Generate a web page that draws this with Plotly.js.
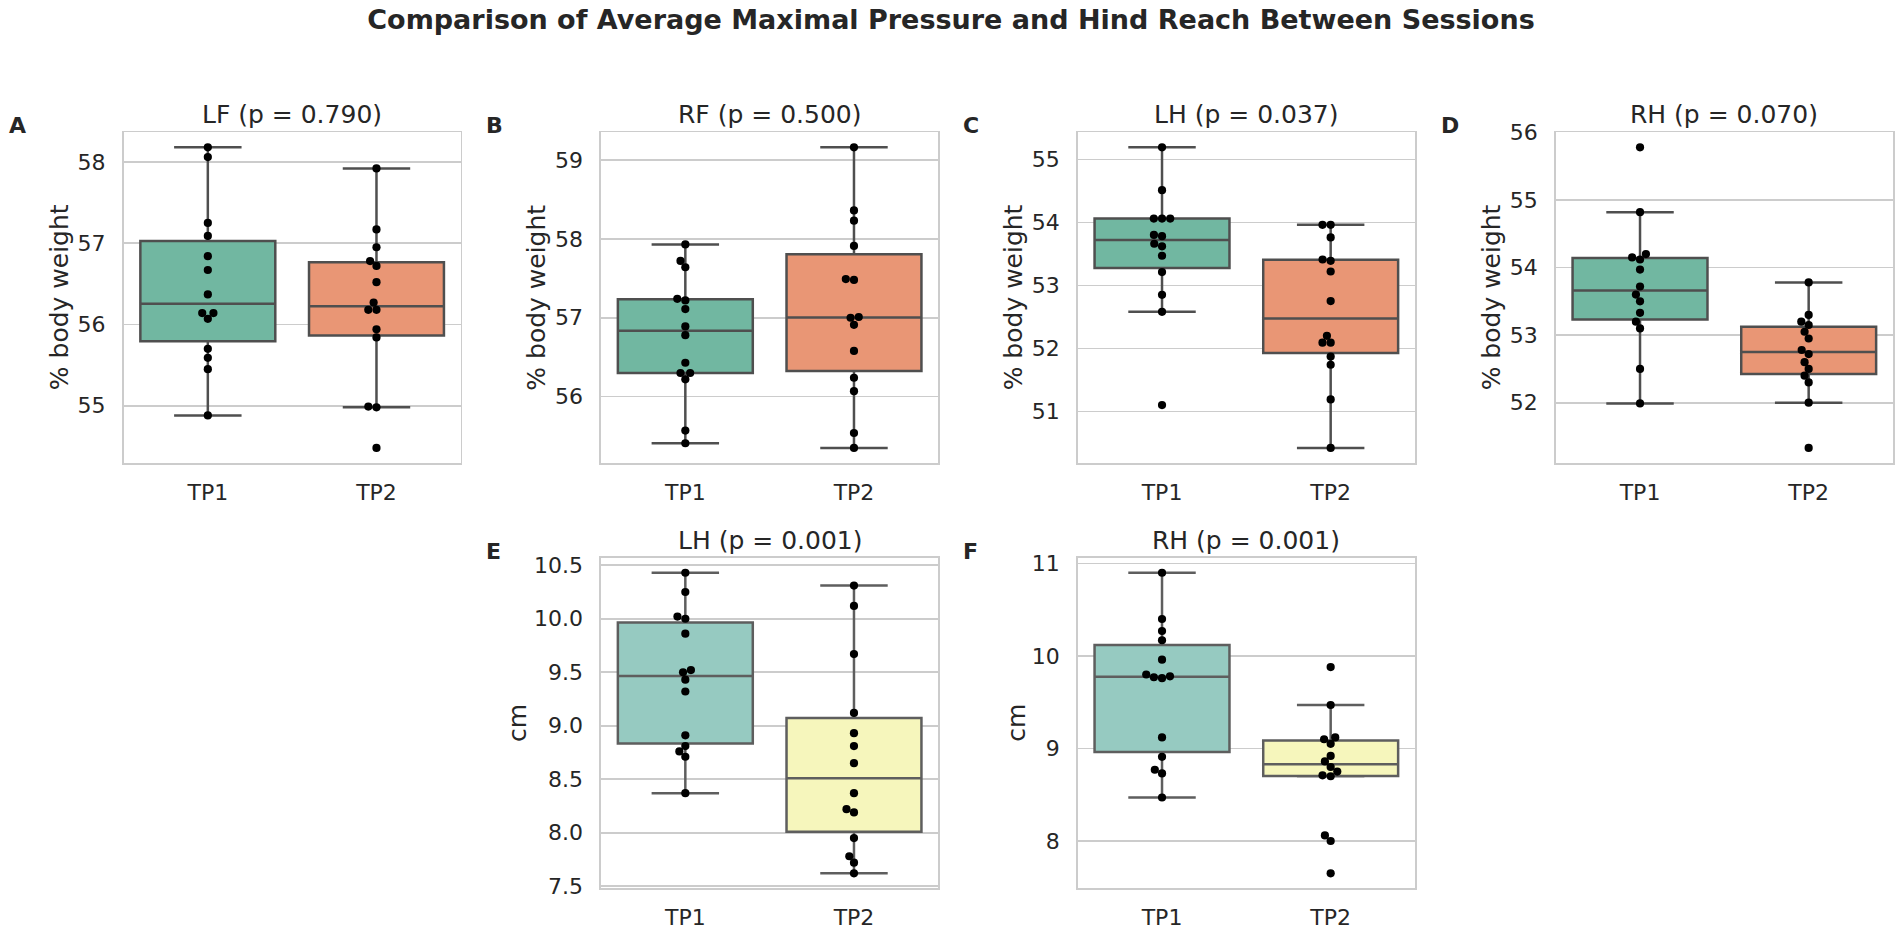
<!DOCTYPE html>
<html><head><meta charset="utf-8">
<script src="https://cdn.plot.ly/plotly-3.0.1.min.js"></script>
<style>html,body{margin:0;padding:0;background:#fff;} #chart{width:1902px;height:931px;}</style>
</head><body><div id="chart"></div>
<script>
// ---------------- data ----------------
const groups = ['TP1', 'TP2'];
const panelLetters = ['A', 'B', 'C', 'D', 'E', 'F'];
const panelTitles = ['LF (p = 0.790)', 'RF (p = 0.500)', 'LH (p = 0.037)', 'RH (p = 0.070)', 'LH (p = 0.001)', 'RH (p = 0.001)'];
const yLabels = ['% body weight', '% body weight', '% body weight', '% body weight', 'cm', 'cm'];
const mainTitle = 'Comparison of Average Maximal Pressure and Hind Reach Between Sessions';

const lfTP1 = [58.18, 58.06, 57.25, 57.09, 56.84, 56.67, 56.37, 56.14, 56.14, 56.07, 55.70, 55.59, 55.45, 54.88];
const lfTP2 = [57.92, 57.17, 56.95, 56.78, 56.72, 56.52, 56.27, 56.18, 56.18, 55.94, 55.84, 54.99, 54.98, 54.48];
const rfTP1 = [57.93, 57.72, 57.64, 57.24, 57.22, 57.11, 56.89, 56.78, 56.43, 56.30, 56.30, 56.22, 55.57, 55.41];
const rfTP2 = [59.16, 58.36, 58.23, 57.91, 57.49, 57.48, 57.01, 57.00, 56.91, 56.58, 56.24, 56.07, 55.54, 55.35];
const lhTP1 = [55.19, 54.51, 54.06, 54.06, 54.06, 53.80, 53.78, 53.66, 53.62, 53.47, 53.21, 52.85, 52.58, 51.10];
const lhTP2 = [53.96, 53.96, 53.76, 53.41, 53.39, 53.22, 52.75, 52.20, 52.09, 52.09, 51.87, 51.74, 51.19, 50.42];
const rhTP1 = [55.78, 54.82, 54.20, 54.15, 54.12, 53.97, 53.72, 53.60, 53.50, 53.33, 53.20, 53.10, 52.50, 51.99];
const rhTP2 = [53.78, 53.30, 53.20, 53.15, 53.05, 52.95, 52.78, 52.72, 52.60, 52.50, 52.40, 52.30, 52.00, 51.33];
const lhReachTP1 = [10.43, 10.25, 10.02, 10.00, 9.86, 9.52, 9.50, 9.43, 9.32, 8.91, 8.81, 8.76, 8.71, 8.37];
const lhReachTP2 = [10.31, 10.12, 9.67, 9.12, 8.93, 8.81, 8.65, 8.37, 8.22, 8.19, 7.95, 7.78, 7.72, 7.62];
const rhReachTP1 = [10.90, 10.40, 10.27, 10.17, 9.96, 9.80, 9.78, 9.77, 9.76, 9.12, 8.91, 8.77, 8.73, 8.47];
const rhReachTP2 = [9.88, 9.47, 9.12, 9.10, 9.05, 8.92, 8.86, 8.80, 8.75, 8.71, 8.70, 8.06, 8.00, 7.65];

const panelData = [
  [lfTP1, lfTP2], [rfTP1, rfTP2], [lhTP1, lhTP2], [rhTP1, rhTP2],
  [lhReachTP1, lhReachTP2], [rhReachTP1, rhReachTP2]
];

// ---------------- styling / layout constants ----------------
const W = 1902, H = 931;
const FONT = 'DejaVu Sans';
const TXT = '#262626';
const colLeft = [123.5, 601, 1077.7, 1555.7];
const panelW = 337.3;
const rowTop = [132.3, 557.7];
const panelH = 330.7;
const panelPos = [[0, 0], [0, 1], [0, 2], [0, 3], [1, 1], [1, 2]];
const fillPressure = ['#71b7a1', '#e99675'];
const fillReach = ['#96cac1', '#f6f6bc'];
const lineCols = ['#4f4f4f', '#4f4f4f', '#4f4f4f', '#4f4f4f', '#5e5e5e', '#5e5e5e'];
const yDtick = [1, 1, 1, 1, 0.5, 1];
const yFormat = ['', '', '', '', '.1f', ''];
const yLabelOffset = [64, 64, 64, 64, 84, 62];
const dotDiam = 7.8;

function pct(s, p) {
  const idx = (s.length - 1) * p, lo = Math.floor(idx), hi = Math.ceil(idx);
  return s[lo] + (s[hi] - s[lo]) * (idx - lo);
}
function boxStats(vals) {
  const s = vals.slice().sort((a, b) => a - b);
  const q1 = pct(s, 0.25), med = pct(s, 0.5), q3 = pct(s, 0.75);
  const iqr = q3 - q1;
  const lo = Math.min(...s.filter(v => v >= q1 - 1.5 * iqr));
  const hi = Math.max(...s.filter(v => v <= q3 + 1.5 * iqr));
  return {q1, med, q3, lo, hi};
}
// beeswarm (seaborn-like) in pixel space
function swarmOffsets(vals, pxPerY, d) {
  const order = vals.map((v, i) => i).sort((a, b) => vals[a] - vals[b]);
  const placed = [];
  const off = new Array(vals.length).fill(0);
  order.forEach(i => {
    const y = vals[i] * pxPerY;
    const nb = placed.filter(p => Math.abs(p.y - y) < d);
    const cands = [0];
    let leftFirst = true;
    nb.forEach(n => {
      const dy = y - n.y;
      const dx = Math.sqrt(Math.max(d * d - dy * dy, 0)) * 1.05;
      if (leftFirst) cands.push(n.x - dx, n.x + dx); else cands.push(n.x + dx, n.x - dx);
      leftFirst = !leftFirst;
    });
    const sorted = cands.map((c, k) => [c, k]).sort((a, b) => (Math.abs(a[0]) - Math.abs(b[0])) || (a[1] - b[1]));
    let chosen = 0;
    for (const [c] of sorted) {
      if (nb.every(n => (c - n.x) ** 2 + (y - n.y) ** 2 >= d * d - 1e-6)) { chosen = c; break; }
    }
    placed.push({x: chosen, y});
    off[i] = chosen;
  });
  return off;
}

const traces = [];
const layout = {
  width: W, height: H,
  margin: {l: 0, r: 0, t: 0, b: 0},
  paper_bgcolor: '#ffffff', plot_bgcolor: '#ffffff',
  showlegend: false,
  font: {family: FONT, color: TXT},
  title: {
    text: mainTitle, x: 0.5, xanchor: 'center', xref: 'paper',
    y: 1 - 20 / H, yanchor: 'middle', yref: 'container',
    font: {family: FONT, size: 27, color: TXT, weight: 'bold'}
  },
  annotations: []
};

panelData.forEach((pair, p) => {
  const [r, c] = panelPos[p];
  const left = colLeft[c], top = rowTop[r];
  const xs = p === 0 ? '' : String(p + 1);
  const xa = 'x' + xs, ya = 'y' + xs;
  const all = pair[0].concat(pair[1]);
  const mn = Math.min(...all), mx = Math.max(...all), m = (mx - mn) * 0.05;
  const yr = [mn - m, mx + m];
  const pxPerY = panelH / (yr[1] - yr[0]);
  const pxPerX = panelW / 2;
  const fills = p < 4 ? fillPressure : fillReach;

  layout['xaxis' + xs] = {
    domain: [left / W, (left + panelW) / W], anchor: ya,
    range: [-0.5, 1.5], tickvals: [0, 1], ticktext: groups,
    showgrid: false, zeroline: false, showline: true, mirror: true,
    linecolor: '#cccccc', linewidth: 1.6, ticks: '', ticklabelstandoff: 9,
    tickfont: {family: FONT, size: 22, color: TXT}, fixedrange: true
  };
  layout['yaxis' + xs] = {
    domain: [1 - (top + panelH) / H, 1 - top / H], anchor: xa,
    range: yr, tick0: 0, dtick: yDtick[p], tickformat: yFormat[p],
    showgrid: true, gridcolor: '#cccccc', gridwidth: 1.6,
    zeroline: false, showline: true, mirror: true,
    linecolor: '#cccccc', linewidth: 1.6, ticks: '', ticklabelstandoff: 12,
    tickfont: {family: FONT, size: 22, color: TXT}, fixedrange: true
  };

  pair.forEach((vals, g) => {
    const st = boxStats(vals);
    traces.push({
      type: 'box', orientation: 'v', x: [g],
      q1: [st.q1], median: [st.med], q3: [st.q3], lowerfence: [st.lo], upperfence: [st.hi],
      width: 0.8, whiskerwidth: 0.5, boxpoints: false,
      fillcolor: fills[g], line: {color: lineCols[p], width: 2.5},
      xaxis: xa, yaxis: ya, hoverinfo: 'skip', showlegend: false
    });
  });
  pair.forEach((vals, g) => {
    const off = swarmOffsets(vals, pxPerY, dotDiam);
    traces.push({
      type: 'scatter', mode: 'markers',
      x: vals.map((v, i) => g + off[i] / pxPerX), y: vals,
      marker: {color: '#000000', size: 8.2, line: {width: 0}},
      xaxis: xa, yaxis: ya, hoverinfo: 'y', showlegend: false
    });
  });

  // subplot title
  layout.annotations.push({
    text: panelTitles[p], xref: 'paper', yref: 'paper',
    x: (left + panelW / 2) / W, y: 1 - (top - 17.5) / H,
    xanchor: 'center', yanchor: 'middle', showarrow: false,
    font: {family: FONT, size: 25, color: TXT}
  });
  // panel letter
  layout.annotations.push({
    text: panelLetters[p], xref: 'paper', yref: 'paper',
    x: (left - 117) / W, y: 1 - (top - 6.5) / H,
    xanchor: 'left', yanchor: 'middle', showarrow: false,
    font: {family: FONT, size: 22, color: TXT, weight: 'bold'}
  });
  // y axis label
  layout.annotations.push({
    text: yLabels[p], xref: 'paper', yref: 'paper',
    x: (left - yLabelOffset[p]) / W, y: 1 - (top + panelH / 2) / H,
    xanchor: 'center', yanchor: 'middle', textangle: -90, showarrow: false,
    font: {family: FONT, size: 25, color: TXT}
  });
});

Plotly.newPlot('chart', traces, layout, {displayModeBar: false, staticPlot: true});
</script>
</body></html>
